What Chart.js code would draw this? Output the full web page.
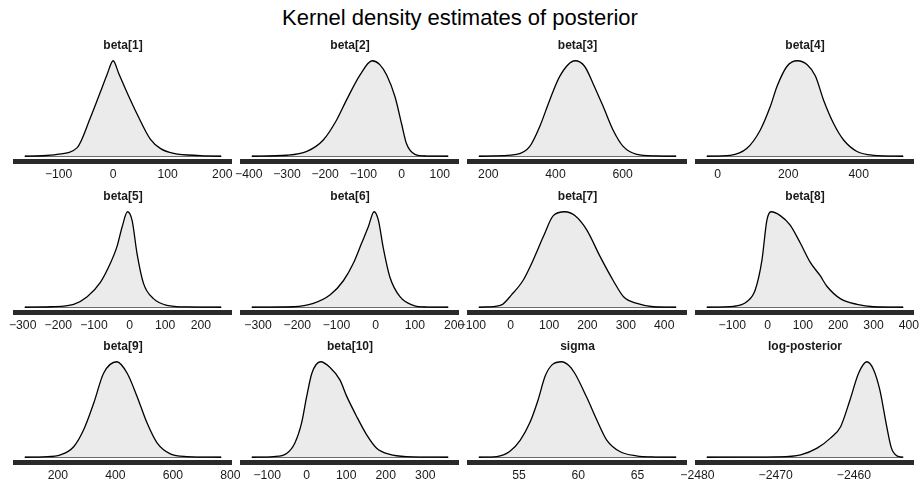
<!DOCTYPE html>
<html>
<head>
<meta charset="utf-8">
<script src="https://cdn.jsdelivr.net/npm/chart.js@4.4.1/dist/chart.umd.min.js"></script>
<style>
  html, body { margin: 0; padding: 0; background: #fff; }
  #wrap { position: relative; width: 920px; height: 483px; overflow: hidden; }
  #main {
    position: absolute; left: 0; top: 7px; width: 920px; text-align: center;
    font: 22px "Liberation Sans", Arial, Helvetica, sans-serif; line-height: 22px; color: #000;
  }
  .panel { position: absolute; }
</style>
</head>
<body>
<div id="wrap"><div id="main">Kernel density estimates of posterior</div></div>
<script>
// panel titles, in reading order
const panelTitles = ['beta[1]', 'beta[2]', 'beta[3]', 'beta[4]',
                     'beta[5]', 'beta[6]', 'beta[7]', 'beta[8]',
                     'beta[9]', 'beta[10]', 'sigma', 'log-posterior'];

// tick labels of each x axis
const tickValues = [
  [-100, 0, 100, 200],
  [-400, -300, -200, -100, 0, 100],
  [200, 400, 600],
  [0, 200, 400],
  [-300, -200, -100, 0, 100, 200],
  [-300, -200, -100, 0, 100, 200],
  [-100, 0, 100, 200, 300, 400],
  [-100, 0, 100, 200, 300, 400],
  [200, 400, 600, 800],
  [-100, 0, 100, 200, 300],
  [55, 60, 65],
  [-2480, -2470, -2460]
];

// density curves (x = parameter value, y = density relative to its peak)
const beta1X = [-162, -130, -103, -66, -42, -23, -11, 0, 10, 26, 44, 68, 87, 111, 160, 198];
const beta1Y = [0, 0.005, 0.02, 0.09, 0.40, 0.68, 0.86, 1.0, 0.87, 0.66, 0.44, 0.18, 0.08, 0.03, 0.007, 0];

const beta2X = [-392, -300, -248, -205, -170, -144, -109, -77, -57, -39, -17, 0, 13, 35, 65, 122];
const beta2Y = [0, 0.01, 0.05, 0.17, 0.38, 0.59, 0.85, 1.0, 0.96, 0.85, 0.62, 0.34, 0.13, 0.02, 0.002, 0];

const beta3X = [172, 284, 323, 353, 383, 413, 458, 487, 512, 542, 572, 602, 642, 700, 759];
const beta3Y = [0, 0.02, 0.10, 0.31, 0.59, 0.84, 1.0, 0.94, 0.76, 0.52, 0.27, 0.10, 0.02, 0.003, 0];

const beta4X = [-31, 35, 82, 120, 149, 168, 196, 226, 253, 277, 300, 329, 357, 395, 442, 526];
const beta4Y = [0, 0.01, 0.08, 0.27, 0.52, 0.73, 0.94, 1.0, 0.96, 0.84, 0.59, 0.34, 0.17, 0.05, 0.01, 0];

const beta5X = [-294, -222, -157, -119, -82, -54, -35, -21, -6, 7, 21, 39, 67, 105, 161, 257];
const beta5Y = [0, 0.005, 0.03, 0.11, 0.26, 0.46, 0.64, 0.84, 1.0, 0.91, 0.56, 0.25, 0.09, 0.02, 0.003, 0];

const beta6X = [-316, -210, -159, -116, -82, -57, -36, -19, -4, 7, 19, 36, 62, 96, 130, 185];
const beta6Y = [0, 0.005, 0.04, 0.13, 0.28, 0.46, 0.67, 0.84, 1.0, 0.91, 0.63, 0.32, 0.11, 0.02, 0.002, 0];

const beta7X = [-83, -62, -24, 2, 32, 58, 85, 111, 141, 167, 198, 233, 267, 294, 329, 372, 431];
const beta7Y = [0, 0.003, 0.025, 0.13, 0.28, 0.49, 0.74, 0.96, 1.0, 0.96, 0.81, 0.53, 0.28, 0.11, 0.04, 0.005, 0];

const beta8X = [-172, -96, -58, -35, -16, -2, 10, 36, 64, 93, 121, 149, 168, 206, 253, 300, 384];
const beta8Y = [0, 0.01, 0.06, 0.18, 0.49, 0.91, 1.0, 0.96, 0.86, 0.67, 0.47, 0.33, 0.22, 0.09, 0.03, 0.005, 0];

const beta9X = [85, 151, 209, 255, 290, 325, 359, 405, 441, 475, 510, 545, 591, 649, 768];
const beta9Y = [0, 0.004, 0.025, 0.11, 0.29, 0.57, 0.88, 1.0, 0.88, 0.64, 0.36, 0.15, 0.035, 0.007, 0];

const beta10X = [-139, -84, -51, -30, -13, 0, 13, 35, 59, 84, 101, 126, 151, 177, 210, 252, 358];
const beta10Y = [0, 0.007, 0.04, 0.15, 0.36, 0.64, 0.88, 1.0, 0.94, 0.81, 0.64, 0.43, 0.24, 0.095, 0.03, 0.007, 0];

const sigmaX = [51.6, 53.1, 54.2, 55.1, 55.9, 56.6, 57.2, 57.8, 58.6, 59.2, 59.7, 60.7, 61.6, 62.4, 63.5, 64.9, 66.5, 68.26];
const sigmaY = [0, 0.007, 0.06, 0.18, 0.36, 0.60, 0.85, 0.97, 1.0, 0.96, 0.88, 0.63, 0.38, 0.18, 0.06, 0.014, 0.002, 0];

const lpX = [-2478.8, -2469.8, -2466.8, -2464.7, -2463.0, -2461.7, -2460.5, -2459.4, -2458.35, -2457.5, -2456.7, -2455.8, -2455.2, -2454.5, -2453.7];
const lpY = [0, 0.004, 0.025, 0.095, 0.2, 0.32, 0.60, 0.88, 1.0, 0.92, 0.71, 0.32, 0.095, 0.014, 0];

const curvesX = [beta1X, beta2X, beta3X, beta4X, beta5X, beta6X, beta7X, beta8X, beta9X, beta10X, sigmaX, lpX];
const curvesY = [beta1Y, beta2Y, beta3Y, beta4Y, beta5Y, beta6Y, beta7Y, beta8Y, beta9Y, beta10Y, sigmaY, lpY];

// grid geometry (px)
const colLeft = [15, 242, 469, 697];
const colWidth = [216, 216, 217, 216];
const rowTop = [56, 207, 357];
const plotH = 105;
const SIDE = 25, HEAD = 30, FOOT = 22;
const FONT = '"Liberation Sans", Arial, Helvetica, sans-serif';

const wrap = document.getElementById('wrap');

function fmtTick(v) {
  return String(v).replace('-', '\u2212');
}

panelTitles.forEach((title, i) => {
  const r = Math.floor(i / 4), c = i % 4;
  const xs = curvesX[i], ys = curvesY[i];
  const lo = xs[0], hi = xs[xs.length - 1];
  const pad = (hi - lo) * 0.05;   // ggplot-style 5% expansion

  const box = document.createElement('div');
  box.className = 'panel';
  box.style.left = (colLeft[c] - SIDE) + 'px';
  box.style.top = (rowTop[r] - HEAD) + 'px';
  box.style.width = (colWidth[c] + 2 * SIDE) + 'px';
  box.style.height = (HEAD + plotH + FOOT) + 'px';
  const cv = document.createElement('canvas');
  box.appendChild(cv);
  wrap.appendChild(box);

  new Chart(cv, {
    type: 'line',
    data: {
      datasets: [
        {
          data: xs.map((x, k) => ({ x: x, y: ys[k] })),
          borderColor: '#000',
          borderWidth: 1.3,
          backgroundColor: '#ebebeb',
          fill: 'origin',
          pointRadius: 0,
          cubicInterpolationMode: 'monotone'
        },
        {
          data: [{ x: lo, y: 0 }, { x: hi, y: 0 }],
          borderColor: '#000',
          borderWidth: 1.1,
          pointRadius: 0,
          fill: false
        }
      ]
    },
    options: {
      responsive: true,
      maintainAspectRatio: false,
      animation: false,
      layout: { padding: { left: SIDE, right: SIDE, top: 0, bottom: 0 } },
      scales: {
        x: {
          type: 'linear',
          min: lo - pad,
          max: hi + pad,
          afterBuildTicks: (s) => { s.ticks = tickValues[i].map(v => ({ value: v })); },
          afterFit: (s) => { s.paddingLeft = 0; s.paddingRight = 0; s.height = FOOT; },
          border: { display: true, color: '#2a2a2a', width: 5 },
          grid: { drawOnChartArea: false, drawTicks: true, tickLength: 3, color: '#000' },
          ticks: {
            autoSkip: false,
            maxRotation: 0,
            padding: 3,
            color: '#1a1a1a',
            font: { family: FONT, size: 12.2 },
            callback: (v) => fmtTick(v)
          }
        },
        y: { display: false, min: -0.05, max: 1.05 }
      },
      plugins: {
        legend: { display: false },
        tooltip: { enabled: false },
        title: {
          display: true,
          text: title,
          color: '#1a1a1a',
          font: { family: FONT, size: 12, weight: 'bold' },
          padding: { top: 12.5, bottom: 3.1 }
        }
      }
    }
  });
});
</script>
</body>
</html>
